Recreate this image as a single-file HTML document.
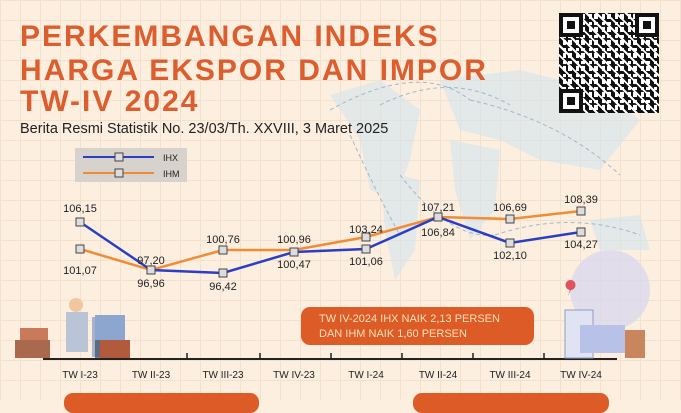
<!DOCTYPE html>
<html><head><meta charset="utf-8"><style>
body{margin:0;width:681px;height:400px;overflow:hidden;background:#fcefdf;font-family:"Liberation Sans",sans-serif;position:relative}
.grid{position:absolute;inset:0;background-image:linear-gradient(#f0dcc6 1px,transparent 1px),linear-gradient(90deg,#f0dcc6 1px,transparent 1px);background-size:20px 20px;opacity:.7}
.t{position:absolute;left:20px;color:#dc5d2e;font-weight:bold;font-size:30px;letter-spacing:2px;line-height:30px}
.qr{position:absolute;left:559px;top:13px;width:100px;height:100px;background:#fff;
background-image:repeating-linear-gradient(45deg,transparent 0 5px,#fff 5px 7px),repeating-linear-gradient(90deg,#111 0 4px,transparent 4px 7px,#111 7px 9px,transparent 9px 13px),repeating-linear-gradient(0deg,#111 0 3px,transparent 3px 8px,#222 8px 10px,transparent 10px 13px)}
.fp{position:absolute;width:16px;height:16px;border:4px solid #111;background:#fff}
.fp::after{content:"";position:absolute;left:4px;top:4px;width:8px;height:8px;background:#111}
.box{position:absolute;background:#dd5b26;color:#ffe0b8;border-radius:9px}
</style></head><body>
<div class="grid"></div>
<svg style="position:absolute;left:0;top:0" width="681" height="400">
<g fill="#d3e4ee" opacity=".6">
<path d="M330 95 L380 80 L420 110 L410 160 L395 200 L370 190 L360 140 Z"/>
<path d="M380 170 L420 180 L415 250 L395 280 L385 230 Z"/>
<path d="M440 80 L520 70 L600 90 L640 120 L600 170 L540 160 L500 140 L460 130 Z"/>
<path d="M450 140 L500 150 L495 210 L470 240 L455 190 Z"/>
<path d="M590 220 L640 215 L650 250 L600 250 Z"/>
</g>
<g fill="none" stroke="#9fb8cc" stroke-dasharray="4 3" stroke-width="1">
<path d="M330 110 Q420 60 470 100"/><path d="M380 105 Q450 70 510 105"/><path d="M400 175 Q450 240 495 235"/>
<path d="M470 100 Q560 120 620 175"/><path d="M495 235 Q570 210 640 235"/><path d="M350 135 Q380 200 400 235"/>
</g>
<line x1="43" y1="359" x2="617" y2="359" stroke="#222" stroke-width="2"/>
<g stroke="#222" stroke-width="1.5">
<line x1="187" y1="353" x2="187" y2="359"/><line x1="260" y1="353" x2="260" y2="359"/><line x1="331" y1="353" x2="331" y2="359"/><line x1="402" y1="353" x2="402" y2="359"/><line x1="473" y1="353" x2="473" y2="359"/><line x1="544" y1="353" x2="544" y2="359"/>
</g>
<polyline fill="none" stroke="#f08c37" stroke-width="2.5" points="80,249 151,270 223,250 294,250 366,237 438,217 510,219 581,211"/>
<polyline fill="none" stroke="#2a3fc4" stroke-width="2.5" points="80,222 151,270 223,273 294,252 366,249 438,217 510,243 581,232"/>
<g fill="#ddd" stroke="#444" stroke-width="1">
<rect x="76" y="218" width="8" height="8"/><rect x="147" y="266" width="8" height="8"/><rect x="219" y="269" width="8" height="8"/><rect x="290" y="248" width="8" height="8"/><rect x="362" y="245" width="8" height="8"/><rect x="434" y="213" width="8" height="8"/><rect x="506" y="239" width="8" height="8"/><rect x="577" y="228" width="8" height="8"/>
<rect x="76" y="245" width="8" height="8"/><rect x="219" y="246" width="8" height="8"/><rect x="362" y="233" width="8" height="8"/><rect x="506" y="215" width="8" height="8"/><rect x="577" y="207" width="8" height="8"/>
</g>
<g font-size="11" fill="#222" text-anchor="middle">
<text x="80" y="212">106,15</text><text x="80" y="274">101,07</text>
<text x="151" y="264">97,20</text><text x="151" y="287">96,96</text>
<text x="223" y="243">100,76</text><text x="223" y="290">96,42</text>
<text x="294" y="243">100,96</text><text x="294" y="268">100,47</text>
<text x="366" y="233">103,24</text><text x="366" y="265">101,06</text>
<text x="438" y="211">107,21</text><text x="438" y="236">106,84</text>
<text x="510" y="211">106,69</text><text x="510" y="259">102,10</text>
<text x="581" y="203">108,39</text><text x="581" y="248">104,27</text>
</g>
<g font-size="10" fill="#222" text-anchor="middle">
<text x="80" y="378">TW I-23</text><text x="151" y="378">TW II-23</text><text x="223" y="378">TW III-23</text><text x="294" y="378">TW IV-23</text><text x="366" y="378">TW I-24</text><text x="438" y="378">TW II-24</text><text x="510" y="378">TW III-24</text><text x="581" y="378">TW IV-24</text>
</g>
<rect x="15" y="340" width="35" height="18" fill="#a8694e"/><rect x="20" y="328" width="28" height="12" fill="#c87a5a"/>
<rect x="92" y="317" width="30" height="40" fill="#a9b3c8"/><rect x="95" y="318" width="24" height="40" fill="#2e3a58" opacity=".6"/>
<rect x="95" y="315" width="30" height="25" fill="#8da6cf"/><rect x="100" y="340" width="30" height="18" fill="#b25a3c"/>
<circle cx="76" cy="305" r="7" fill="#f1c7a0"/><rect x="66" y="312" width="22" height="40" fill="#b9c4d6"/>
<circle cx="610" cy="290" r="40" fill="#d9d8ee" opacity=".8"/>
<rect x="565" y="310" width="28" height="48" fill="#dfe3f2" stroke="#8f9bc8"/>
<rect x="580" y="325" width="45" height="28" fill="#b8c2e8"/><rect x="625" y="330" width="20" height="28" fill="#c8855e"/>
<path d="M570 290 a5 5 0 1 1 1 0 l-3 6z" fill="#e0535a"/>
</svg>
<div class="t" style="top:22px">PERKEMBANGAN INDEKS</div>
<div class="t" style="top:56px">HARGA EKSPOR DAN IMPOR</div>
<div class="t" style="top:87px">TW-IV 2024</div>
<div style="position:absolute;left:20px;top:121px;font-size:14.5px;color:#222">Berita Resmi Statistik No. 23/03/Th. XXVIII, 3 Maret 2025</div>
<div style="position:absolute;left:75px;top:148px;width:112px;height:34px;background:#d8d2cc"></div>
<svg style="position:absolute;left:75px;top:148px" width="112" height="34">
<line x1="8" y1="9" x2="79" y2="9" stroke="#2a3fc4" stroke-width="2"/><rect x="40" y="5" width="8" height="8" fill="#ddd" stroke="#444"/>
<line x1="8" y1="25" x2="79" y2="25" stroke="#f08c37" stroke-width="2"/><rect x="40" y="21" width="8" height="8" fill="#ddd" stroke="#444"/>
<text x="88" y="13" font-size="9" fill="#222">IHX</text><text x="88" y="29" font-size="9" fill="#222">IHM</text>
</svg>
<div class="qr"></div>
<div class="fp" style="left:559px;top:13px"></div><div class="fp" style="left:635px;top:13px"></div><div class="fp" style="left:559px;top:89px"></div>
<div class="box" style="left:301px;top:307px;width:233px;height:38px;font-size:11px;line-height:15px;padding:5px 0 0 18px;box-sizing:border-box">TW IV-2024 IHX NAIK 2,13 PERSEN<br>DAN IHM NAIK 1,60 PERSEN</div>
<div class="box" style="left:64px;top:393px;width:195px;height:20px"></div>
<div class="box" style="left:413px;top:393px;width:196px;height:20px"></div>
</body></html>
